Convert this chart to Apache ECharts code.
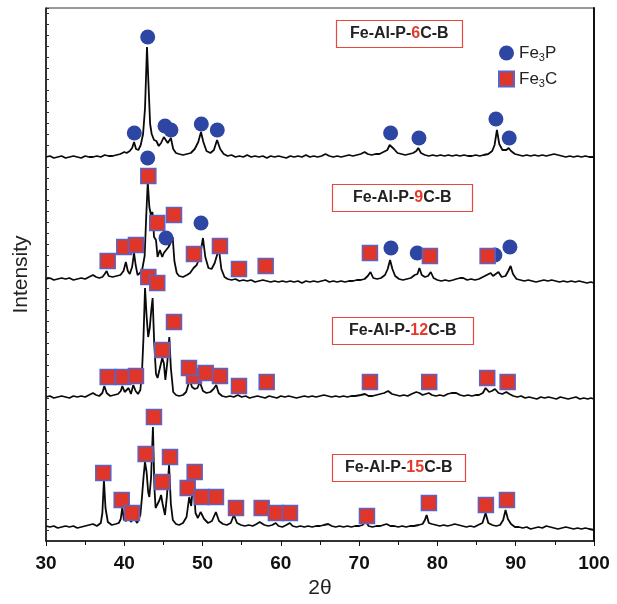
<!DOCTYPE html>
<html>
<head>
<meta charset="utf-8">
<script src="https://cdn.jsdelivr.net/npm/echarts@6/dist/echarts.min.js"></script>
<style>
  html, body { margin: 0; padding: 0; background: #fff; }
  #chart { width: 617px; height: 604px; }
</style>
</head>
<body>
<div id="chart"></div>
<script>
// XRD patterns of Fe-Al-P-xC-B alloys, [2θ (deg), intensity above trace baseline (a.u.)]
const pattern6C = [[30,1],[30.5,2],[31,0],[31.5,1],[32,2],[32.5,0],[33,1],[33.5,2],[34,1],[34.5,0],[35,2],[35.5,1],[36,1],[36.5,2],[37,1],[37.5,3],[38,2],[38.5,2],[39,3],[39.5,4],[40,6],[40.3,5],[40.7,7],[41.0,10],[41.25,16],[41.5,9],[41.8,8],[42.1,13],[42.4,24],[42.65,50],[42.9,111],[43.1,72],[43.3,34],[43.5,24],[43.8,18],[44.1,17],[44.4,12],[44.7,15],[45.05,21],[45.25,23],[45.55,15],[45.75,14],[45.95,20],[46.25,9],[46.6,5],[47.0,4],[47.5,3],[48.0,4],[48.5,5],[49.0,9],[49.45,16],[49.8,26],[50.1,16],[50.5,7],[51.0,5],[51.45,8],[51.85,18],[52.25,9],[52.7,4],[53.2,2],[53.7,3],[54.2,1],[54.7,2],[55.2,1],[55.7,3],[56.2,1],[56.7,2],[57.2,1],[57.7,2],[58.2,0],[58.7,2],[59.2,1],[59.7,2],[60.2,1],[60.7,0],[61.2,2],[61.7,1],[62.2,2],[62.7,1],[63.2,3],[63.7,1],[64.2,2],[64.7,1],[65.2,2],[65.7,4],[66.2,2],[66.7,1],[67.2,2],[67.7,1],[68.2,2],[68.7,3],[69.2,2],[69.7,3],[70.2,4],[70.7,6],[71.1,4],[71.6,3],[72.1,4],[72.6,4],[73.1,6],[73.6,8],[73.9,13],[74.15,15],[74.45,9],[74.9,5],[75.4,4],[75.9,3],[76.4,4],[76.9,5],[77.3,7],[77.55,10],[77.9,5],[78.4,3],[78.9,2],[79.4,3],[79.9,2],[80.4,3],[80.9,2],[81.4,3],[81.9,2],[82.4,3],[82.9,2],[83.4,3],[83.9,2],[84.4,2],[84.9,3],[85.4,2],[85.9,3],[86.5,4],[87.0,7],[87.3,13],[87.6,28],[87.9,14],[88.3,8],[88.8,8],[89.1,10],[89.4,7],[89.9,4],[90.4,3],[90.9,2],[91.4,3],[91.9,2],[92.4,3],[92.9,2],[93.4,3],[93.9,2],[94.4,3],[94.9,4],[95.4,3],[95.9,2],[96.4,1],[96.9,2],[97.4,1],[97.9,2],[98.4,1],[98.9,2],[99.4,1],[100,1]];

const pattern9C = [[30,4],[30.5,5],[31,3],[31.5,4],[32,5],[32.5,4],[33,5],[33.5,3],[34,4],[34.5,5],[35,4],[35.5,6],[36,8],[36.4,6],[36.8,5],[37.2,6],[37.5,9],[37.75,12],[38.0,7],[38.5,6],[39.0,7],[39.5,8],[39.9,12],[40.2,21],[40.45,12],[40.7,9],[41.0,16],[41.25,30],[41.45,18],[41.7,8],[42.0,10],[42.3,14],[42.6,27],[42.8,66],[43.0,101],[43.2,76],[43.4,68],[43.6,71],[43.8,46],[44.05,43],[44.25,26],[44.55,33],[44.85,26],[45.05,30],[45.35,33],[45.65,36],[45.9,40],[46.18,46],[46.4,22],[46.7,10],[47.0,7],[47.5,6],[48.0,8],[48.4,10],[48.85,15],[49.25,18],[49.65,26],[50.05,45],[50.35,26],[50.75,15],[51.15,14],[51.55,20],[51.85,28],[52.1,33],[52.4,14],[52.8,6],[53.2,4],[53.7,3],[54.2,4],[54.7,2],[55.2,3],[55.7,2],[56.2,3],[56.7,1],[57.2,2],[57.7,3],[58.2,2],[58.7,1],[59.2,2],[59.7,1],[60.2,2],[60.7,1],[61.2,2],[61.7,1],[62.2,2],[62.7,0],[63.2,2],[63.7,1],[64.2,2],[64.7,1],[65.2,2],[65.7,3],[66.2,1],[66.7,2],[67.2,1],[67.7,2],[68.2,1],[68.7,2],[69.2,2],[69.7,3],[70.2,3],[70.7,4],[71.1,7],[71.45,11],[71.8,5],[72.3,4],[72.8,5],[73.3,8],[73.65,14],[73.95,23],[74.25,14],[74.6,7],[75.1,4],[75.6,3],[76.1,4],[76.6,5],[77.1,8],[77.45,9],[77.7,15],[78.0,8],[78.4,6],[78.8,7],[79.15,11],[79.5,5],[80.0,3],[80.5,2],[81.0,3],[81.5,2],[82.0,3],[82.4,4],[82.9,5],[83.3,5],[83.8,3],[84.3,4],[84.8,3],[85.3,4],[85.8,6],[86.3,8],[86.8,10],[87.1,7],[87.45,9],[87.8,11],[88.2,6],[88.7,7],[89.05,12],[89.35,17],[89.65,9],[90.1,4],[90.6,3],[91.1,2],[91.6,3],[92.1,2],[92.6,1],[93.1,2],[93.6,3],[94.1,2],[94.6,3],[95.1,2],[95.6,1],[96.1,2],[96.6,1],[97.1,2],[97.6,1],[98.1,2],[98.6,1],[99.1,0],[99.6,1],[100,0]];

const pattern12C = [[30,1],[30.5,2],[31,0],[31.5,1],[32,2],[32.5,1],[33,0],[33.5,2],[34,1],[34.5,2],[35,1],[35.5,3],[36,5],[36.4,3],[36.8,2],[37.2,5],[37.45,12],[37.75,5],[38.2,2],[38.7,3],[39.2,4],[39.55,7],[39.75,12],[40.05,6],[40.3,7],[40.55,10],[40.85,4],[41.15,13],[41.45,7],[41.75,4],[42.05,8],[42.25,24],[42.45,60],[42.65,110],[42.85,82],[43.05,61],[43.25,70],[43.45,88],[43.62,100],[43.82,55],[44.05,24],[44.25,20],[44.55,30],[44.85,40],[45.05,35],[45.25,18],[45.5,36],[45.75,61],[45.95,30],[46.25,6],[46.6,3],[47.0,2],[47.5,3],[47.9,6],[48.35,18],[48.65,11],[49.0,9],[49.35,10],[49.65,16],[50.05,7],[50.5,5],[51.0,6],[51.4,9],[51.75,13],[52.05,5],[52.5,2],[53.0,1],[53.5,2],[54.0,1],[54.5,3],[55.0,1],[55.5,2],[56.0,0],[56.5,1],[57.0,2],[57.5,1],[58.0,0],[58.5,2],[59.0,1],[59.5,0],[60.0,2],[60.5,1],[61.0,2],[61.5,1],[62.0,0],[62.5,1],[63.0,2],[63.5,1],[64.0,2],[64.5,1],[65.0,2],[65.5,3],[66.0,2],[66.5,1],[67.0,2],[67.5,1],[68.0,2],[68.5,1],[69.0,2],[69.5,2],[70.2,3],[70.75,4],[71.2,2],[71.7,2],[72.2,3],[72.7,4],[73.2,5],[73.7,7],[74.2,4],[74.7,3],[75.2,2],[75.7,3],[76.2,2],[76.7,4],[77.3,6],[77.7,5],[78.1,3],[78.5,4],[78.9,5],[79.3,3],[79.8,2],[80.3,3],[80.8,2],[81.3,4],[81.8,5],[82.4,5],[82.9,3],[83.4,2],[83.9,3],[84.4,2],[84.9,3],[85.3,3],[85.8,5],[86.15,10],[86.6,6],[86.95,7],[87.35,9],[87.8,5],[88.3,4],[88.8,6],[89.2,4],[89.7,2],[90.2,1],[90.7,2],[91.2,0],[91.7,1],[92.2,0],[92.7,-1],[93.2,1],[93.7,0],[94.2,1],[94.7,0],[95.2,-1],[95.7,1],[96.2,0],[96.7,-1],[97.2,0],[97.7,1],[98.2,-1],[98.7,0],[99.2,-1],[99.6,0],[100,-1]];

const pattern15C = [[30,2],[30.5,1],[31,2],[31.5,0],[32,1],[32.5,2],[33,1],[33.5,2],[34,0],[34.5,1],[35,2],[35.5,3],[36,4],[36.5,2],[37.0,5],[37.2,15],[37.4,48],[37.6,20],[37.9,6],[38.4,3],[38.9,4],[39.3,5],[39.55,9],[39.75,21],[39.95,8],[40.25,7],[40.55,13],[40.85,6],[41.25,10],[41.65,5],[42.05,13],[42.25,30],[42.45,50],[42.64,66],[42.85,56],[43.05,36],[43.2,31],[43.42,50],[43.66,101],[43.85,40],[44.0,20],[44.2,18],[44.5,28],[44.7,33],[44.9,24],[45.2,13],[45.45,32],[45.72,63],[45.95,24],[46.2,8],[46.6,4],[47.0,3],[47.5,5],[47.95,11],[48.3,31],[48.55,22],[48.82,48],[49.1,15],[49.4,10],[49.75,16],[50.2,9],[50.7,5],[51.2,7],[51.7,16],[52.1,7],[52.6,4],[53.1,3],[53.6,5],[54.0,13],[54.4,5],[54.9,3],[55.4,2],[55.9,3],[56.4,2],[56.9,4],[57.3,6],[57.55,8],[57.9,3],[58.4,2],[58.9,3],[59.35,5],[59.7,2],[60.2,1],[60.7,3],[61.15,5],[61.5,2],[62.0,1],[62.5,2],[63.0,1],[63.5,2],[64.0,1],[64.5,2],[65.0,2],[65.5,3],[66.05,4],[66.5,2],[67.0,1],[67.5,2],[68.0,1],[68.5,2],[69.0,1],[69.5,2],[70.0,2],[70.45,3],[70.85,7],[71.2,2],[71.7,1],[72.2,2],[72.7,2],[73.1,3],[73.5,4],[74.0,2],[74.5,2],[75.0,1],[75.5,2],[76.0,1],[76.5,2],[77.0,2],[77.6,3],[78.1,4],[78.4,8],[78.62,13],[78.9,5],[79.3,4],[79.8,3],[80.3,2],[80.8,3],[81.3,2],[81.8,3],[82.2,4],[82.7,3],[83.2,2],[83.7,1],[84.2,2],[84.7,1],[85.2,3],[85.75,5],[86.15,15],[86.5,5],[87.0,3],[87.5,2],[88.0,3],[88.4,8],[88.7,18],[89.0,9],[89.4,4],[89.9,1],[90.4,1],[90.9,0],[91.4,1],[91.9,-1],[92.4,0],[92.9,1],[93.4,0],[93.9,2],[94.4,1],[94.9,0],[95.4,-1],[95.9,0],[96.4,1],[96.9,0],[97.4,-1],[97.9,0],[98.4,-1],[98.9,0],[99.4,-1],[100,-2]];

// Phase markers, [2θ (deg), intensity on the stacked scale]
const fe3pMarks6C = [[41.28,408],[42.99,504],[45.2,415],[45.96,411],[49.84,417],[51.88,411],[74.02,408],[77.64,403],[87.47,422],[89.17,403]];
const fe3pMarks9C = [[42.99,383],[45.33,303],[49.8,318],[74.06,293],[77.42,288],[87.34,286],[89.26,294]];
const fe3cMarks9C = [[37.88,280],[40.0,294],[41.49,296],[43.07,365],[44.21,318],[46.35,326],[48.9,287],[52.22,295],[54.65,272],[58.06,275],[71.38,288],[79.04,285],[86.41,285]];
const fe3cMarks12C = [[48.9,165],[43.07,264],[44.21,258],[37.88,164],[39.87,164],[41.49,165],[44.85,191],[46.35,219],[48.26,173],[50.4,168],[52.22,165],[54.65,155],[58.19,159],[71.38,159],[78.95,159],[86.36,163],[88.97,159]];
const fe3cMarks15C = [[37.32,68],[39.67,41],[40.98,28],[42.73,87],[43.79,124],[44.86,59],[45.84,84],[48.1,53],[48.99,69],[49.88,44],[51.71,44],[54.27,33],[57.55,33],[59.37,28],[61.16,28],[71.0,25],[78.91,38],[86.19,36],[88.88,41]];

// Sample names and the carbon content highlighted in each
const sampleCarbon = ['6', '9', '12', '15'];
const phaseNames = ['Fe3P', 'Fe3C'];
const xTicks = [30, 40, 50, 60, 70, 80, 90, 100];

// vertical stacking of the four patterns
const stackOffset = { c6: 383, c9: 258, c12: 143, c15: 13 };
const shift = (arr, off) => arr.map(p => [p[0], p[1] + off]);

const FONT = '"Liberation Sans", Arial, Helvetica, sans-serif';
const chart = echarts.init(document.getElementById('chart'), null, { renderer: 'canvas' });

const lineSeries = (name, data) => ({
  name, type: 'line', data, symbol: 'none', z: 2,
  lineStyle: { color: '#0a0a0a', width: 1.8 }, silent: true
});

// sample tags: [carbon, left, top, horizontal padding]
const tagBoxes = [
  [sampleCarbon[0], 336, 20, 14],
  [sampleCarbon[1], 332, 184, 21],
  [sampleCarbon[2], 332, 317, 17],
  [sampleCarbon[3], 332, 454, 13]
];

chart.setOption({
  animation: false,
  backgroundColor: '#fff',
  grid: { left: 46, right: 23, top: 8, bottom: 63, show: true, borderColor: '#333', borderWidth: 1 },
  title: tagBoxes.map(([c, l, t, ph]) => ({
    text: 'Fe-Al-P-{r|' + c + '}C-B',
    left: l, top: t,
    padding: [5, ph, 5, ph],
    borderColor: '#e8473d', borderWidth: 1.2,
    backgroundColor: '#fff',
    textStyle: {
      fontFamily: FONT, fontSize: 16, fontWeight: 'bold', color: '#222', lineHeight: 18,
      rich: { r: { fontFamily: FONT, fontSize: 16, fontWeight: 'bold', color: '#e53a2b', lineHeight: 18 } }
    }
  })),
  legend: {
    data: phaseNames,
    orient: 'vertical', left: 493, top: 38,
    itemWidth: 15, itemHeight: 15, itemGap: 6,
    formatter: n => n.replace('3', '{s|3}'),
    textStyle: {
      fontFamily: FONT, fontSize: 17, color: '#222', lineHeight: 20,
      rich: { s: { fontFamily: FONT, fontSize: 11, color: '#222', lineHeight: 10, verticalAlign: 'bottom' } }
    }
  },
  xAxis: {
    type: 'value', min: 30, max: 100, interval: 10,
    name: '2θ', nameLocation: 'middle', nameGap: 37,
    nameTextStyle: { fontFamily: FONT, fontSize: 21, color: '#222' },
    axisLine: { show: true, lineStyle: { color: '#111', width: 1.5 } },
    axisTick: { show: true, inside: false, length: 5, lineStyle: { color: '#111', width: 1 } },
    minorTick: { show: true, splitNumber: 2, length: 4, lineStyle: { color: '#111', width: 1 } },
    splitLine: { show: false },
    axisLabel: {
      margin: 13, fontFamily: FONT, fontSize: 19, fontWeight: 'bold', color: '#111',
      formatter: v => xTicks.includes(v) ? String(v) : ''
    }
  },
  yAxis: [{
    type: 'value', min: 0, max: 533, interval: 11,
    name: 'Intensity', nameLocation: 'middle', nameGap: 14,
    nameTextStyle: { fontFamily: FONT, fontSize: 21, color: '#222' },
    axisLine: { show: true, lineStyle: { color: '#111', width: 1.5 } },
    axisTick: { show: true, inside: true, length: 3, lineStyle: { color: '#333', width: 1 } },
    axisLabel: { show: false },
    splitLine: { show: false }
  }, {
    type: 'value', min: 0, max: 533, position: 'right',
    axisLine: { show: true, lineStyle: { color: '#111', width: 2 } },
    axisTick: { show: false }, axisLabel: { show: false }, splitLine: { show: false }
  }],
  series: [
    lineSeries('6C', shift(pattern6C, stackOffset.c6)),
    lineSeries('9C', shift(pattern9C, stackOffset.c9)),
    lineSeries('12C', shift(pattern12C, stackOffset.c12)),
    lineSeries('15C', shift(pattern15C, stackOffset.c15)),
    {
      name: phaseNames[0], type: 'scatter', z: 3, symbol: 'circle', symbolSize: 15,
      itemStyle: { color: '#2d46a3', opacity: 1 },
      data: fe3pMarks6C.concat(fe3pMarks9C)
    },
    {
      name: phaseNames[1], type: 'scatter', z: 4, symbol: 'rect', symbolSize: 15,
      itemStyle: { color: '#e0362a', borderColor: '#5b63c4', borderWidth: 1.5, opacity: 1 },
      data: fe3cMarks9C.concat(fe3cMarks12C, fe3cMarks15C)
    }
  ]
});
</script>
</body>
</html>
